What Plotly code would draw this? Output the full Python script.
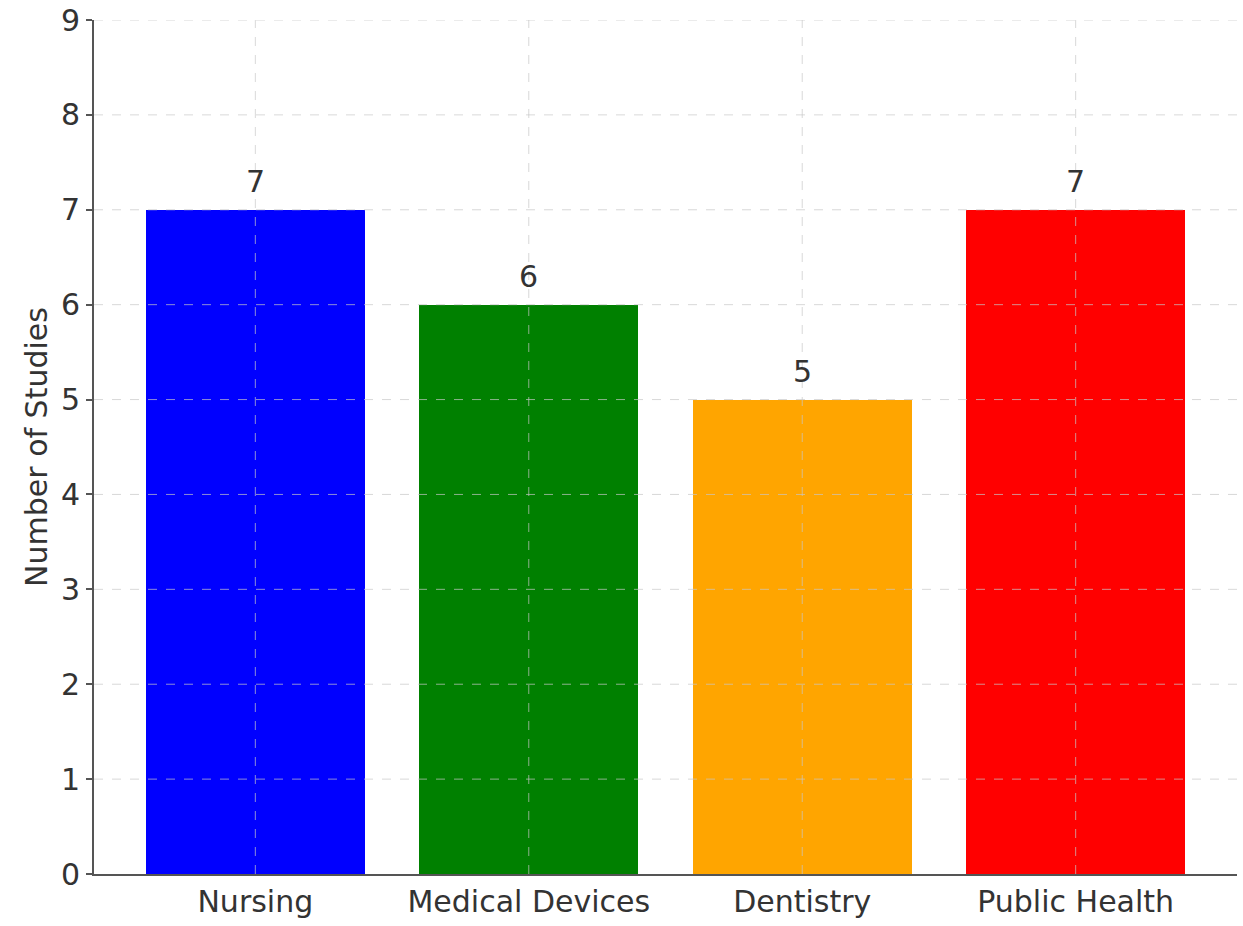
import plotly.graph_objects as go

categories = ["Nursing", "Medical Devices", "Dentistry", "Public Health"]
studies = [7, 6, 5, 7]
bar_colors = ["#0000ff", "#008000", "#ffa500", "#ff0000"]
y_ticks = [0, 1, 2, 3, 4, 5, 6, 7, 8, 9]

font_family = "DejaVu Sans"
text_color = "#333333"
axis_color = "#555555"
grid_color = "rgba(200,200,200,0.7)"

x_pos = list(range(len(categories)))

fig = go.Figure()
fig.add_trace(go.Bar(
    x=x_pos,
    y=studies,
    width=0.8,
    marker=dict(color=bar_colors, line=dict(width=0)),
    hoverinfo="skip",
    showlegend=False,
))

# value labels above each bar
for xi, v in zip(x_pos, studies):
    fig.add_annotation(
        x=xi, y=v, text=str(v), showarrow=False,
        yanchor="bottom", yshift=9,
        font=dict(family=font_family, size=30, color=text_color),
    )

# dashed grid drawn over the bars
shapes = []
for t in y_ticks[1:]:
    shapes.append(dict(type="line", xref="paper", yref="y", x0=0, x1=1, y0=t, y1=t,
                       line=dict(color=grid_color, width=1, dash="dash"), layer="above"))
for xi in x_pos:
    shapes.append(dict(type="line", xref="x", yref="paper", x0=xi, x1=xi, y0=0, y1=1,
                       line=dict(color=grid_color, width=1, dash="dash"), layer="above"))

fig.update_layout(
    width=1243,
    height=926,
    margin=dict(l=94, r=6, t=20, b=52, autoexpand=False),
    paper_bgcolor="white",
    plot_bgcolor="white",
    font=dict(family=font_family, color=text_color),
    shapes=shapes,
    bargap=0,
)

fig.update_xaxes(
    range=[-0.59, 3.59],
    tickmode="array",
    tickvals=x_pos,
    ticktext=categories,
    tickfont=dict(size=30, color=text_color),
    showgrid=False,
    zeroline=False,
    showline=True,
    linecolor=axis_color,
    linewidth=2,
    ticks="",
    automargin=False,
    layer="above traces",
)

fig.update_yaxes(
    range=[0, 9],
    tickmode="array",
    tickvals=y_ticks,
    tickfont=dict(size=30, color=text_color),
    showgrid=False,
    zeroline=False,
    showline=True,
    linecolor=axis_color,
    linewidth=2,
    ticks="outside",
    ticklen=6,
    tickwidth=2,
    tickcolor=axis_color,
    automargin=False,
    title=dict(text="Number of Studies", font=dict(size=30, color=text_color), standoff=4),
    layer="above traces",
)

fig.write_html("out.html")
